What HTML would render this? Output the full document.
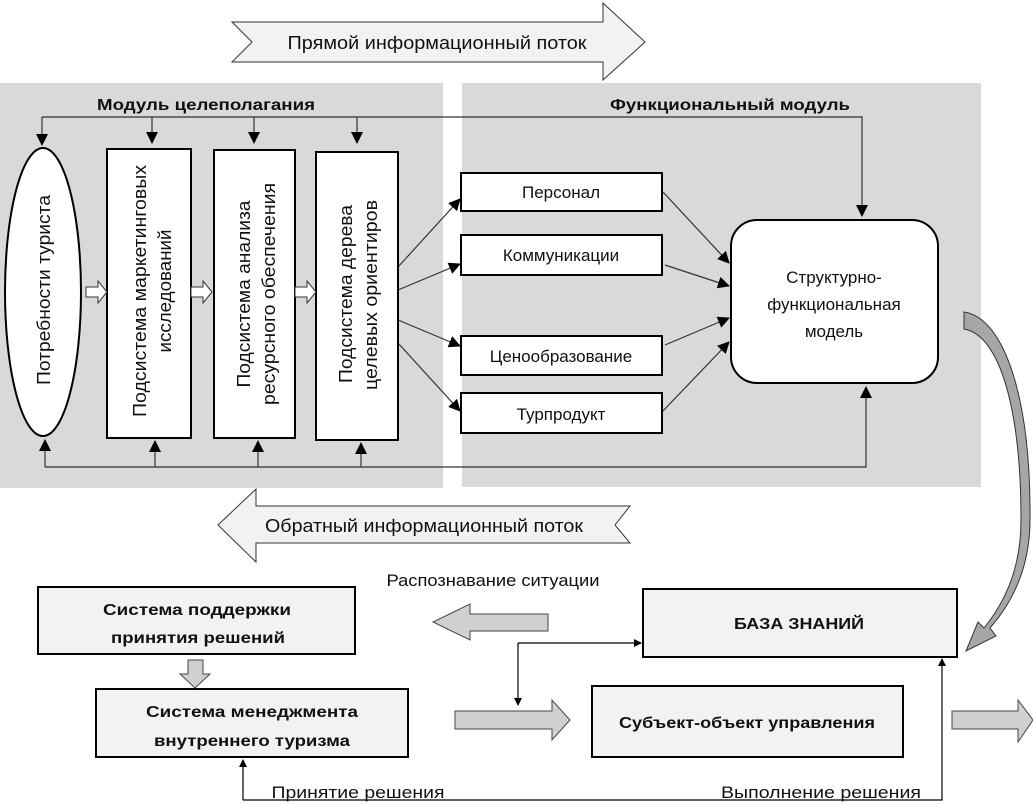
<!DOCTYPE html>
<html><head><meta charset="utf-8"><style>
html,body{margin:0;padding:0;background:#fff;}
svg{display:block;}
text{font-family:"Liberation Sans","DejaVu Sans",sans-serif;fill:#111;}
</style></head><body>
<svg width="1033" height="805" viewBox="0 0 1033 805" xmlns="http://www.w3.org/2000/svg">
<defs>
<marker id="a" markerWidth="8" markerHeight="8" refX="7" refY="4" orient="auto" markerUnits="userSpaceOnUse"><path d="M0,0 L8,4 L0,8 Z" fill="#000"/></marker>
<marker id="b" markerWidth="12" markerHeight="12" refX="11" refY="6" orient="auto" markerUnits="userSpaceOnUse"><path d="M0,0 L12,6 L0,12 Z" fill="#000"/></marker>
</defs>
<rect x="0" y="83" width="443" height="405" fill="#d9d9d9"/>
<rect x="462" y="83" width="519" height="404" fill="#d9d9d9"/>
<path d="M232,22 L603,22 L603,3 L645,42 L603,80 L603,62 L232,62 L252,42 Z" fill="#f2f2f2" stroke="#333" stroke-width="1"/>
<text x="437" y="49" font-size="18" text-anchor="middle" textLength="299" lengthAdjust="spacingAndGlyphs">Прямой информационный поток</text>
<path d="M630,506 L256,506 L256,489 L218,525 L256,562 L256,543 L630,543 L615,525 Z" fill="#f2f2f2" stroke="#333" stroke-width="1"/>
<text x="424" y="532" font-size="18" text-anchor="middle" textLength="318" lengthAdjust="spacingAndGlyphs">Обратный информационный поток</text>
<text x="206" y="110" font-size="16" font-weight="bold" text-anchor="middle" textLength="218" lengthAdjust="spacingAndGlyphs">Модуль целеполагания</text>
<text x="730" y="110" font-size="16" font-weight="bold" text-anchor="middle" textLength="240" lengthAdjust="spacingAndGlyphs">Функциональный модуль</text>
<g stroke="#333" stroke-width="1.2" fill="none">
<path d="M42,117 L862,117 L862,216" marker-end="url(#b)"/>
<path d="M42,117 L42,145" marker-end="url(#b)"/>
<path d="M152,117 L152,143" marker-end="url(#b)"/>
<path d="M254,117 L254,143" marker-end="url(#b)"/>
<path d="M357,117 L357,143" marker-end="url(#b)"/>
<path d="M45,467 L866,467 L866,387" marker-end="url(#b)"/>
<path d="M45,467 L45,440" marker-end="url(#b)"/>
<path d="M155,467 L155,441" marker-end="url(#b)"/>
<path d="M258,467 L258,441" marker-end="url(#b)"/>
<path d="M361,467 L361,443" marker-end="url(#b)"/>
<path d="M398,267 L460,199" marker-end="url(#b)"/>
<path d="M398,290 L460,264" marker-end="url(#b)"/>
<path d="M398,320 L460,346" marker-end="url(#b)"/>
<path d="M398,343 L460,411" marker-end="url(#b)"/>
<path d="M663,192 L729,263" marker-end="url(#b)"/>
<path d="M665,265 L729,286" marker-end="url(#b)"/>
<path d="M665,345 L729,318" marker-end="url(#b)"/>
<path d="M662,412 L729,342" marker-end="url(#b)"/>
</g>
<ellipse cx="43" cy="292" rx="38" ry="144" fill="#fff" stroke="#000" stroke-width="2"/>
<text transform="translate(50,290) rotate(-90)" font-size="18" text-anchor="middle" textLength="190" lengthAdjust="spacingAndGlyphs">Потребности туриста</text>
<rect x="107" y="149" width="84" height="289" fill="#fff" stroke="#000" stroke-width="2"/>
<text transform="translate(146,291) rotate(-90)" font-size="18" text-anchor="middle" textLength="252" lengthAdjust="spacingAndGlyphs">Подсистема  маркетинговых</text>
<text transform="translate(171,291) rotate(-90)" font-size="18" text-anchor="middle" textLength="123" lengthAdjust="spacingAndGlyphs">исследований</text>
<rect x="214" y="150" width="81" height="288" fill="#fff" stroke="#000" stroke-width="2"/>
<text transform="translate(250,294) rotate(-90)" font-size="18" text-anchor="middle" textLength="187" lengthAdjust="spacingAndGlyphs">Подсистема  анализа</text>
<text transform="translate(275,294) rotate(-90)" font-size="18" text-anchor="middle" textLength="222" lengthAdjust="spacingAndGlyphs">ресурсного обеспечения</text>
<rect x="316" y="152" width="82" height="288" fill="#fff" stroke="#000" stroke-width="2"/>
<text transform="translate(352,294) rotate(-90)" font-size="18" text-anchor="middle" textLength="178" lengthAdjust="spacingAndGlyphs">Подсистема  дерева</text>
<text transform="translate(377,295) rotate(-90)" font-size="18" text-anchor="middle" textLength="190" lengthAdjust="spacingAndGlyphs">целевых ориентиров</text>
<g fill="#fff" stroke="#333" stroke-width="1">
<path d="M86,287 L98,287 L98,281 L107,292 L98,303 L98,297 L86,297 Z"/>
<path d="M191,287 L203,287 L203,281 L212,292 L203,303 L203,297 L191,297 Z"/>
<path d="M295,287 L307,287 L307,281 L316,292 L307,303 L307,297 L295,297 Z"/>
</g>
<g fill="#fff" stroke="#000" stroke-width="2">
<rect x="461" y="173" width="201" height="38"/>
<rect x="461" y="235" width="201" height="40"/>
<rect x="461" y="336" width="201" height="39"/>
<rect x="461" y="393" width="201" height="40"/>
<rect x="731" y="220" width="207" height="163" rx="26"/>
</g>
<g font-size="17" text-anchor="middle">
<text x="561" y="198">Персонал</text>
<text x="561" y="261">Коммуникации</text>
<text x="561" y="362">Ценообразование</text>
<text x="561" y="420">Турпродукт</text>
<text x="834" y="283">Структурно-</text>
<text x="834" y="310">функциональная</text>
<text x="834" y="337">модель</text>
</g>
<path d="M964,312 C1005,318 1031,400 1030,520 C1030,570 1010,605 990,628 L996,636 L966,651 L978,622 L984,628 C1004,603 1021,570 1021,520 C1021,410 1000,335 964,329 Z" fill="#a6a6a6" stroke="#333" stroke-width="1"/>
<text x="493" y="586" font-size="17" text-anchor="middle" textLength="213" lengthAdjust="spacingAndGlyphs">Распознавание ситуации</text>
<g fill="#f2f2f2" stroke="#000" stroke-width="2">
<rect x="38" y="587" width="317" height="67"/>
<rect x="96" y="689" width="312" height="68"/>
<rect x="643" y="589" width="314" height="68"/>
<rect x="592" y="686" width="311" height="71"/>
</g>
<g font-size="16" font-weight="bold" text-anchor="middle">
<text x="197" y="615" textLength="188" lengthAdjust="spacingAndGlyphs">Система поддержки</text>
<text x="198" y="643" textLength="174" lengthAdjust="spacingAndGlyphs">принятия решений</text>
<text x="252" y="717" textLength="212" lengthAdjust="spacingAndGlyphs">Система менеджмента</text>
<text x="252" y="746" textLength="196" lengthAdjust="spacingAndGlyphs">внутреннего туризма</text>
<text x="799" y="629" textLength="130" lengthAdjust="spacingAndGlyphs">БАЗА ЗНАНИЙ</text>
<text x="747" y="728" textLength="256" lengthAdjust="spacingAndGlyphs">Субъект-объект управления</text>
</g>
<g fill="#d0d0d0" stroke="#444" stroke-width="1">
<path d="M548,614 L470,614 L470,604 L433,622 L470,640 L470,631 L548,631 Z"/>
<path d="M188,660 L203,660 L203,674 L210,674 L195,688 L180,674 L188,674 Z"/>
<path d="M455,711 L552,711 L552,700 L570,720 L552,740 L552,729 L455,729 Z"/>
<path d="M952,711 L1018,711 L1018,700 L1033,720 L1018,742 L1018,729 L952,729 Z"/>
</g>
<g stroke="#000" stroke-width="1.2" fill="none">
<path d="M518,643 L641,643" marker-end="url(#a)"/>
<path d="M518,643 L518,705" marker-end="url(#a)"/>
<path d="M243,800 L942,800 L942,659" marker-end="url(#a)"/>
<path d="M243,800 L243,760" marker-end="url(#a)"/>
</g>
<text x="358" y="798" font-size="17" text-anchor="middle" textLength="173" lengthAdjust="spacingAndGlyphs">Принятие решения</text>
<text x="821" y="798" font-size="17" text-anchor="middle" textLength="200" lengthAdjust="spacingAndGlyphs">Выполнение решения</text>
</svg>
</body></html>
